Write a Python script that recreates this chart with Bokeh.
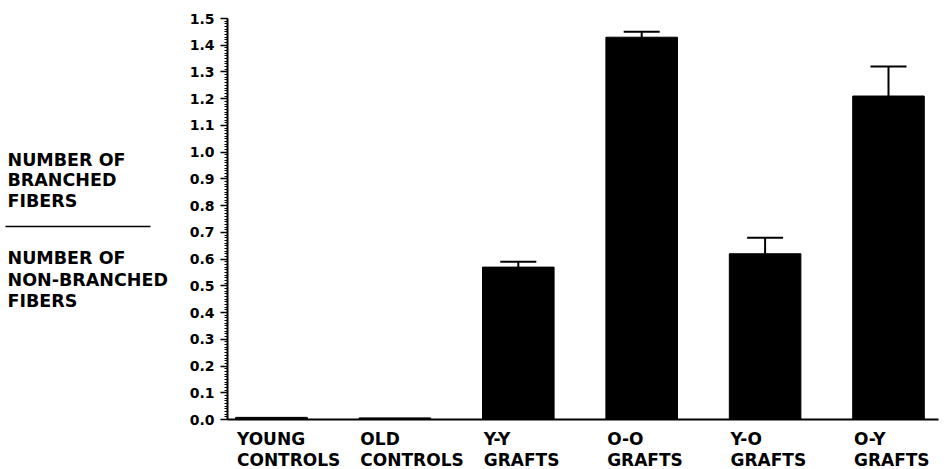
from bokeh.plotting import figure
from bokeh.models import (ColumnDataSource, Range1d, FixedTicker, PrintfTickFormatter,
                          Whisker, TeeHead)
from bokeh.core.properties import value
from bokeh.embed import file_html
from bokeh.resources import INLINE

# ---- data ----
categories = ["YOUNG\nCONTROLS", "OLD\nCONTROLS", "Y-Y\nGRAFTS", "O-O\nGRAFTS", "Y-O\nGRAFTS", "O-Y\nGRAFTS"]
ratio = [0.008, 0.006, 0.57, 1.43, 0.62, 1.21]
sem = [0.0, 0.0, 0.02, 0.02, 0.06, 0.11]
y_ticks = [round(0.1 * k, 1) for k in range(16)]
numerator_lines = ["NUMBER OF", "BRANCHED", "FIBERS"]
denominator_lines = ["NUMBER OF", "NON-BRANCHED", "FIBERS"]

# ---- layout constants (page pixels) ----
W, H = 946, 468
ORIGIN = 0                             # page offset of the canvas as rendered
X0_PX, STEP_PX = 271.0, 123.4          # page x of first category, spacing
Y0_PX, UNIT_PX = 419.0, 401.0 / 1.5    # page y of value 0, px per unit
TXT = -6                               # baseline correction for text glyphs


def dx(px):
    return (px - X0_PX) / STEP_PX


def dy(py):
    return (Y0_PX - py) / UNIT_PX


FONT_NAME = "DejaVu Sans"
FONT = value(FONT_NAME)

p = figure(width=W, height=H, title=None,
           x_range=Range1d(dx(ORIGIN), dx(ORIGIN + W)),
           y_range=Range1d(dy(ORIGIN + H), dy(ORIGIN)),
           toolbar_location=None, output_backend="svg", min_border=0,
           outline_line_color=None)
p.grid.visible = False

xs = list(range(len(categories)))
AX_LEFT = dx(227)
AX_RIGHT = dx(938)

# bars
src = ColumnDataSource(dict(x=xs, top=ratio))
p.vbar(x="x", top="top", bottom=0, width=0.58, source=src, fill_color="black", line_color="black")

# error bars (upper only)
ex = [x for x, e in zip(xs, sem) if e > 0]
ev = [v for v, e in zip(ratio, sem) if e > 0]
eu = [v + e for v, e in zip(ratio, sem) if e > 0]
esrc = ColumnDataSource(dict(x=ex, lower=ev, upper=eu))
p.add_layout(Whisker(source=esrc, base="x", lower="lower", upper="upper", dimension="height",
                     line_color="black", line_width=2, lower_head=None,
                     upper_head=TeeHead(size=36, line_color="black", line_width=2)))

# y axis, fixed at the left end of the value axis
ya = p.yaxis[0]
ya.fixed_location = AX_LEFT
ya.bounds = (0, 1.5)
ya.ticker = FixedTicker(ticks=y_ticks, minor_ticks=[round(0.01 * k, 2) for k in range(151)])
ya.formatter = PrintfTickFormatter(format="%.1f")
ya.axis_line_width = 2
ya.major_tick_out = 7
ya.major_tick_in = 0
ya.major_tick_line_width = 1.5
ya.minor_tick_out = 3
ya.minor_tick_in = 0
ya.major_label_standoff = 6
ya.major_label_text_font = FONT_NAME
ya.major_label_text_font_style = "bold"
ya.major_label_text_font_size = "14px"
ya.major_label_text_color = "black"

# x axis line at zero
xa = p.xaxis[0]
xa.fixed_location = 0
xa.bounds = (AX_LEFT, AX_RIGHT)
xa.ticker = FixedTicker(ticks=[], minor_ticks=[])
xa.axis_line_width = 2
xa.major_tick_out = 0
xa.minor_tick_out = 0

# category names, left-aligned at each bar's left edge
first = [c.split("\n")[0] for c in categories]
second = [c.split("\n")[1] for c in categories]
lab_x = [x - 0.28 for x in xs]
p.text(x=lab_x, y=[dy(444 + TXT)] * len(xs), text=first, text_font=FONT, text_font_style="bold",
       text_font_size="17px", text_align="left", text_baseline="alphabetic", text_color="black")
p.text(x=lab_x, y=[dy(465 + TXT)] * len(xs), text=second, text_font=FONT, text_font_style="bold",
       text_font_size="17px", text_align="left", text_baseline="alphabetic", text_color="black")

# ratio label on the left
p.text(x=[dx(7)] * 3, y=[dy(v + TXT) for v in (165, 185, 206)], text=numerator_lines, text_font=FONT,
       text_font_style="bold", text_font_size="17.5px", text_align="left",
       text_baseline="alphabetic", text_color="black")
p.text(x=[dx(7)] * 3, y=[dy(v + TXT) for v in (263, 285, 306.5)], text=denominator_lines, text_font=FONT,
       text_font_style="bold", text_font_size="17.5px", text_align="left",
       text_baseline="alphabetic", text_color="black")
p.segment(x0=[dx(5)], y0=[dy(226)], x1=[dx(150)], y1=[dy(226)], line_color="black", line_width=1.6)

open("out.html", "w").write(file_html(p, INLINE))
